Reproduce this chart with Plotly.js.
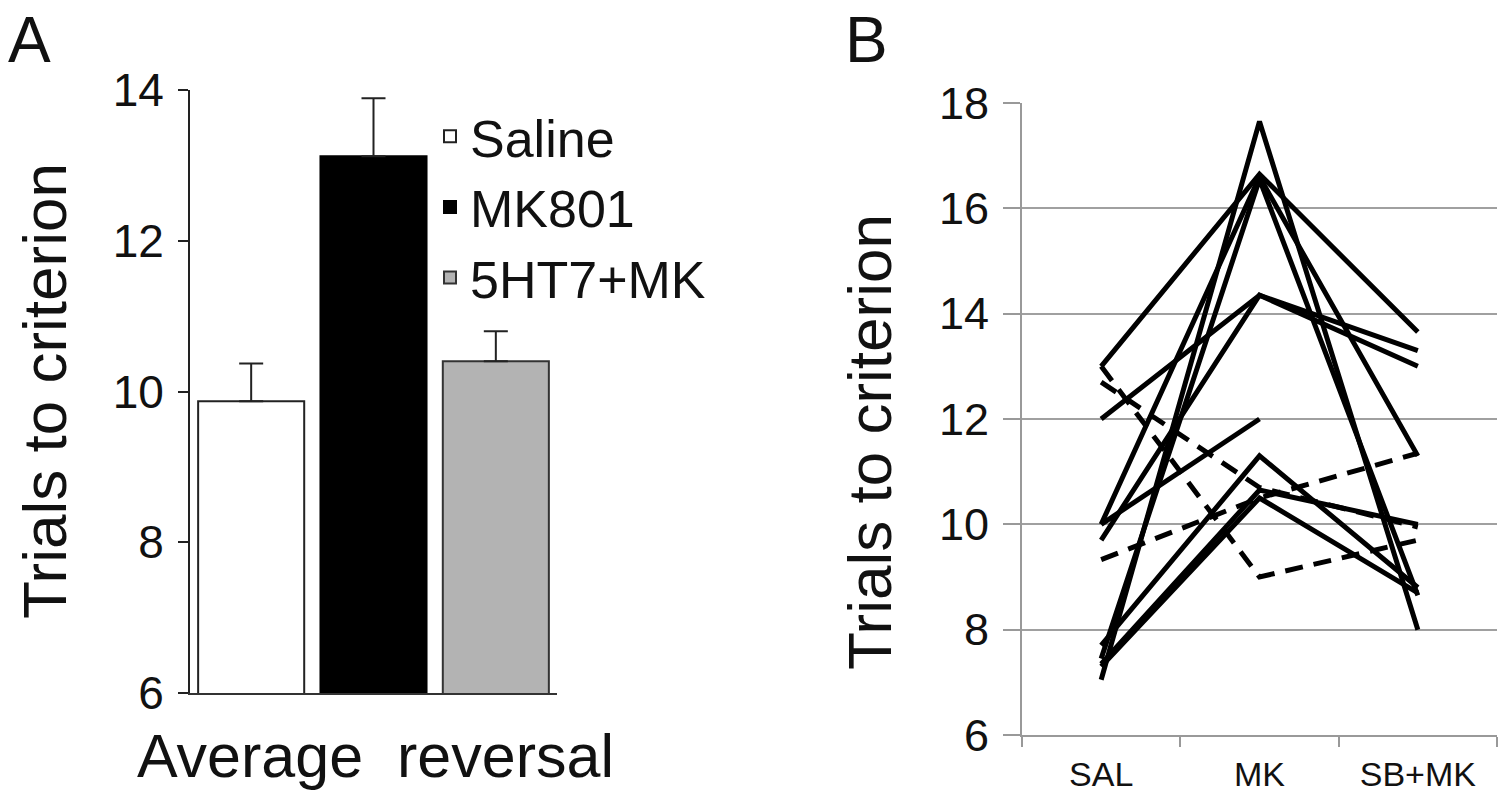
<!DOCTYPE html>
<html>
<head>
<meta charset="utf-8">
<script src="https://cdn.plot.ly/plotly-3.0.1.min.js"></script>
<style>
html, body { margin: 0; padding: 0; background: #ffffff; }
#chart { width: 1500px; height: 803px; }
</style>
</head>
<body>
<div id="chart"></div>
<script>
// ---------- Panel A data ----------
const aCategory = ['Average reversal'];
const aGroups = ['Saline', 'MK801', '5HT7+MK'];
const aMeans = [9.87, 13.12, 10.40];
const aErrors = [0.50, 0.77, 0.40];

// ---------- Panel B data ----------
const bCategories = ['SAL', 'MK', 'SB+MK'];
const rat1 = [13.0, 16.65, 13.65];
const rat2 = [12.0, 14.35, 13.3];
const rat3 = [9.7, 14.35, 13.0];
const rat4 = [10.0, 12.0, null];
const rat5 = [10.0, 16.6, 11.3];
const rat6 = [7.05, 17.65, 8.0];
const rat7 = [7.7, 11.3, 8.8];
const rat8 = [7.35, 10.65, 10.0];
const rat9 = [7.3, 10.5, 8.7];
const rat10 = [7.45, 16.55, 8.65];
const rat11 = [12.7, 10.7, 9.95];
const rat12 = [13.0, 9.0, 9.7];
const rat13 = [9.33, 10.5, 11.35];
const bSeries = [rat1, rat2, rat3, rat4, rat5, rat6, rat7, rat8, rat9, rat10, rat11, rat12, rat13];
const bDashed = [false, false, false, false, false, false, false, false, false, false, true, true, true];

// ---------- styles ----------
const FONT = 'Liberation Sans, Arial, Helvetica, sans-serif';
const TXT = '#111111';
const aFill = ['#ffffff', '#000000', '#b3b3b3'];
const aLine = ['#222222', '#000000', '#333333'];

const W = 1500, H = 803;
const px = v => v / W;
const py = v => 1 - v / H;

const traces = [];
aGroups.forEach((g, i) => {
  traces.push({
    type: 'bar',
    name: g,
    x: aCategory,
    y: [aMeans[i]],
    xaxis: 'x', yaxis: 'y',
    legendgroup: g,
    marker: { color: aFill[i], line: { color: aLine[i], width: 2 } },
    error_y: {
      type: 'data', symmetric: false,
      array: [aErrors[i]], arrayminus: [0],
      color: '#222222', thickness: 2, width: 12
    },
    hoverinfo: 'skip'
  });
});

bSeries.forEach((s, i) => {
  traces.push({
    type: 'scatter',
    mode: 'lines',
    x: bCategories,
    y: s,
    xaxis: 'x2', yaxis: 'y2',
    showlegend: false,
    connectgaps: false,
    line: { color: '#000000', width: 5, dash: bDashed[i] ? '18px,11px' : 'solid' },
    hoverinfo: 'skip'
  });
});

const layout = {
  width: W, height: H,
  margin: { l: 0, r: 0, t: 0, b: 0 },
  paper_bgcolor: '#ffffff',
  plot_bgcolor: 'rgba(0,0,0,0)',
  font: { family: FONT, color: TXT },
  barmode: 'group',
  bargap: 0,
  bargroupgap: 0.133,
  showlegend: true,
  legend: {
    x: px(430), y: py(96), xanchor: 'left', yanchor: 'top',
    font: { family: FONT, size: 52, color: TXT },
    bgcolor: 'rgba(0,0,0,0)',
    traceorder: 'normal',
    tracegroupgap: 0,
    itemclick: false, itemdoubleclick: false
  },
  xaxis: {
    domain: [px(190), px(557)],
    anchor: 'y',
    type: 'category',
    range: [-0.5, 0.5],
    showticklabels: false,
    ticks: '',
    showgrid: false,
    zeroline: false,
    showline: true, linecolor: '#333333', linewidth: 2,
    fixedrange: true
  },
  yaxis: {
    domain: [py(693), py(90)],
    anchor: 'x',
    range: [6, 14],
    tickvals: [6, 8, 10, 12, 14],
    ticks: 'outside', ticklen: 10, tickwidth: 2, tickcolor: '#222222',
    ticklabelstandoff: 5,
    tickfont: { family: FONT, size: 46, color: TXT },
    showgrid: false, zeroline: false,
    showline: true, linecolor: '#222222', linewidth: 2,
    fixedrange: true
  },
  xaxis2: {
    domain: [px(1022), px(1497)],
    anchor: 'y2',
    type: 'category',
    range: [-0.5, 2.5],
    tickson: 'boundaries',
    ticks: 'outside', ticklen: 10, tickwidth: 2, tickcolor: '#999999',
    ticklabelstandoff: 8,
    tickfont: { family: FONT, size: 34, color: TXT },
    showgrid: false, zeroline: false,
    showline: true, linecolor: '#999999', linewidth: 2,
    fixedrange: true
  },
  yaxis2: {
    domain: [py(735), py(103)],
    anchor: 'x2',
    range: [6, 18],
    tickvals: [6, 8, 10, 12, 14, 16, 18],
    ticks: 'outside', ticklen: 17, tickwidth: 2, tickcolor: '#999999',
    ticklabelstandoff: 5,
    tickfont: { family: FONT, size: 45, color: TXT },
    showgrid: true, gridcolor: '#a0a0a0', gridwidth: 2,
    zeroline: false,
    showline: true, linecolor: '#999999', linewidth: 2,
    fixedrange: true
  },
  annotations: [
    { text: 'A', x: px(29), y: py(2), xref: 'paper', yref: 'paper',
      xanchor: 'center', yanchor: 'top', showarrow: false,
      font: { family: FONT, size: 64, color: TXT } },
    { text: 'B', x: px(867), y: py(2), xref: 'paper', yref: 'paper',
      xanchor: 'center', yanchor: 'top', showarrow: false,
      font: { family: FONT, size: 64, color: TXT } },
    { text: 'Trials to criterion', x: px(45), y: py(391), xref: 'paper', yref: 'paper',
      xanchor: 'center', yanchor: 'middle', showarrow: false, textangle: -90,
      font: { family: FONT, size: 62, color: TXT } },
    { text: 'Trials to criterion', x: px(869), y: py(442), xref: 'paper', yref: 'paper',
      xanchor: 'center', yanchor: 'middle', showarrow: false, textangle: -90,
      font: { family: FONT, size: 62, color: TXT } },
    { text: 'Average&nbsp;&nbsp;reversal', x: px(375), y: py(756), xref: 'paper', yref: 'paper',
      xanchor: 'center', yanchor: 'middle', showarrow: false,
      font: { family: FONT, size: 61, color: TXT } }
  ]
};

Plotly.newPlot('chart', traces, layout, { staticPlot: true, displayModeBar: false });
</script>
</body>
</html>
